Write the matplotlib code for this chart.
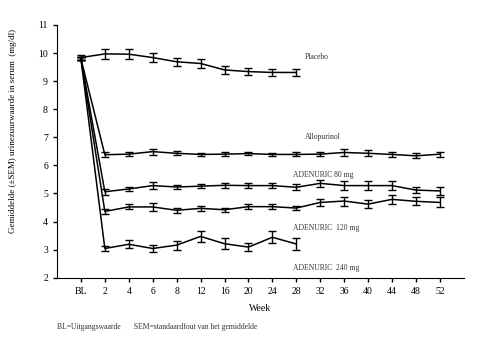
import matplotlib
matplotlib.use('Agg')
import matplotlib.pyplot as plt

plt.rcParams['font.family'] = ['Liberation Serif', 'DejaVu Serif']

# Week categories (BL = baseline)
weeks = ['BL', '2', '4', '6', '8', '12', '16', '20', '24', '28',
         '32', '36', '40', '44', '48', '52']

# Mean serum urate (mg/dl) and SEM per group
placebo = [9.84, 9.97, 9.96, 9.84, 9.69, 9.63, 9.40, 9.34, 9.31, 9.31]
placebo_err = [0.08, 0.18, 0.17, 0.15, 0.14, 0.16, 0.13, 0.12, 0.12, 0.14]

allopurinol = [9.80, 6.38, 6.40, 6.49, 6.43, 6.39, 6.40, 6.42, 6.39, 6.39,
               6.40, 6.46, 6.43, 6.39, 6.34, 6.40]
allopurinol_err = [0.06, 0.08, 0.07, 0.11, 0.07, 0.05, 0.06, 0.06, 0.06, 0.07,
                   0.07, 0.12, 0.10, 0.09, 0.09, 0.09]

adenuric80 = [9.80, 5.06, 5.16, 5.28, 5.23, 5.26, 5.29, 5.28, 5.28, 5.22,
              5.36, 5.28, 5.28, 5.28, 5.12, 5.09]
adenuric80_err = [0.06, 0.10, 0.07, 0.12, 0.07, 0.07, 0.09, 0.08, 0.09, 0.10,
                  0.12, 0.15, 0.15, 0.15, 0.12, 0.15]

adenuric120 = [9.80, 4.36, 4.52, 4.52, 4.40, 4.47, 4.42, 4.53, 4.53, 4.48,
               4.68, 4.73, 4.62, 4.79, 4.72, 4.68]
adenuric120_err = [0.06, 0.09, 0.09, 0.13, 0.08, 0.09, 0.07, 0.08, 0.08, 0.08,
                   0.14, 0.16, 0.13, 0.17, 0.14, 0.18]

adenuric240 = [9.80, 3.04, 3.19, 3.04, 3.16, 3.47, 3.21, 3.09, 3.44, 3.20]
adenuric240_err = [0.06, 0.10, 0.15, 0.11, 0.16, 0.21, 0.20, 0.15, 0.22, 0.21]

labels = ['Placebo', 'Allopurinol', 'ADENURIC 80 mg',
          'ADENURIC  120 mg', 'ADENURIC  240 mg']
label_y = [9.86, 7.01, 5.66, 3.77, 2.34]
label_x = [10.36, 10.36, 9.86, 9.86, 9.86]

fig = plt.figure(figsize=(5.02, 3.5), dpi=100)
ax = fig.add_axes([0.1135, 0.2066, 0.8105, 0.722])

series = [(placebo, placebo_err), (allopurinol, allopurinol_err),
          (adenuric80, adenuric80_err), (adenuric120, adenuric120_err),
          (adenuric240, adenuric240_err)]
for vals, err in series:
    x = list(range(1, len(vals) + 1))
    ax.errorbar(x, vals, yerr=err, color='black', lw=1.1, capsize=3,
                elinewidth=1.0, capthick=1.0)

for txt, lx, ly in zip(labels, label_x, label_y):
    ax.text(lx, ly, txt, fontsize=5.5, color='#333333', va='center', ha='left')

ax.set_xlim(0, 17)
ax.set_ylim(2, 11)
ax.set_xticks(range(1, len(weeks) + 1))
ax.set_xticklabels(weeks)
ax.set_yticks(range(2, 12))
ax.tick_params(labelsize=7, length=3, width=1, direction='out')
ax.spines['top'].set_visible(False)
ax.spines['right'].set_visible(False)
ax.set_xlabel('Week', fontsize=7, labelpad=6)
ax.set_ylabel('Gemiddelde (\u00b1SEM) urinezuurwaarde in serum  (mg/dl)',
              fontsize=6.5)
ax.yaxis.set_label_coords(-0.098, 0.58)

fig.text(0.1135, 0.065, 'BL=Uitgangswaarde       SEM=standaardfout van het gemiddelde',
         fontsize=5.5, color='#333333', va='center')

fig.savefig('out.png', dpi=100)
